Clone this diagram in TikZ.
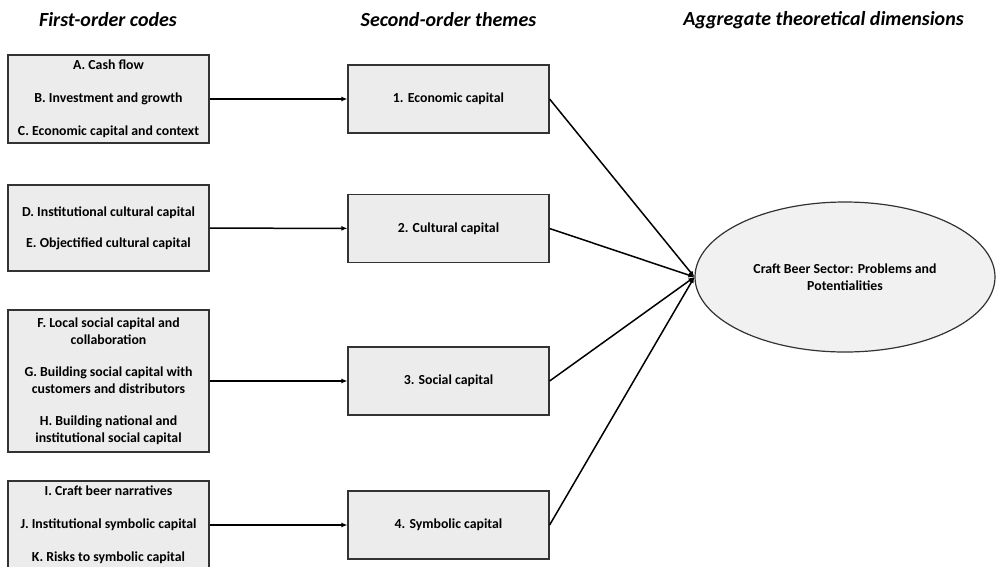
\documentclass[tikz,border=0pt]{standalone}
\usepackage{fontspec}
\setmainfont{Carlito}
\usetikzlibrary{arrows.meta, positioning, shapes.geometric}

\begin{document}
\begin{tikzpicture}[x=1pt, y=-1pt, >={Latex[length=6pt, width=5pt]},
  every node/.style={font=\fontsize{13.8}{17}\selectfont\bfseries},
  header/.style={font=\fontsize{20}{22}\selectfont\bfseries\itshape},
  codebox/.style={draw=black!80, line width=1.2pt, fill=gray!15, minimum width=201pt, align=center, inner sep=0pt},
  themebox/.style={draw=black!80, line width=1.2pt, fill=gray!15, minimum width=201pt, minimum height=68pt},
  link/.style={->, line width=1.5pt}]
  \useasboundingbox (0,0) rectangle (996,566);

  % column headers
  \node[header] (h1) at (108,20) {First-order codes};
  \node[header] (h2) at (448.5,20) {Second-order themes};
  \node[header] (h3) at (823.5,20) {Aggregate theoretical dimensions};

  % first-order codes
  \node[codebox, minimum height=88pt] (ca) at (108.5,99)
    {A. Cash flow\\[16pt]B. Investment and growth\\[16pt]C. Economic capital and context};
  \node[codebox, minimum height=86pt] (cd) at (108.5,228)
    {D. Institutional cultural capital\\[14pt]E. Objectified cultural capital};
  \node[codebox, minimum height=142pt] (cf) at (108.5,381)
    {F. Local social capital and\\collaboration\\[15pt]G. Building social capital with\\customers and distributors\\[15pt]H. Building national and\\institutional social capital};
  \node[codebox, minimum height=88pt] (ci) at (108.5,525)
    {I. Craft beer narratives\\[16pt]J. Institutional symbolic capital\\[16pt]K. Risks to symbolic capital};

  % second-order themes
  \node[themebox] (t1) at (448.5,99) {1. Economic capital};
  \node[themebox] (t2) at (448.5,228.5) {2. Cultural capital};
  \node[themebox] (t3) at (448.5,381) {3. Social capital};
  \node[themebox] (t4) at (448.5,525) {4. Symbolic capital};

  % aggregate dimension
  \node[ellipse, draw=black!80, line width=1.2pt, fill=gray!11, minimum width=300pt, minimum height=150pt, align=center, inner sep=0pt] (dim) at (845,277)
    {Craft Beer Sector: Problems and\\Potentialities};

  \draw[link] (ca) -- (t1);
  \draw[link] (cd) -- (t2);
  \draw[link] (cf) -- (t3);
  \draw[link] (ci) -- (t4);

  \draw[link] (t1.east) -- (dim.west);
  \draw[link] (t2.east) -- (dim.west);
  \draw[link] (t3.east) -- (dim.west);
  \draw[link] (t4.east) -- (dim.west);
\end{tikzpicture}
\end{document}
